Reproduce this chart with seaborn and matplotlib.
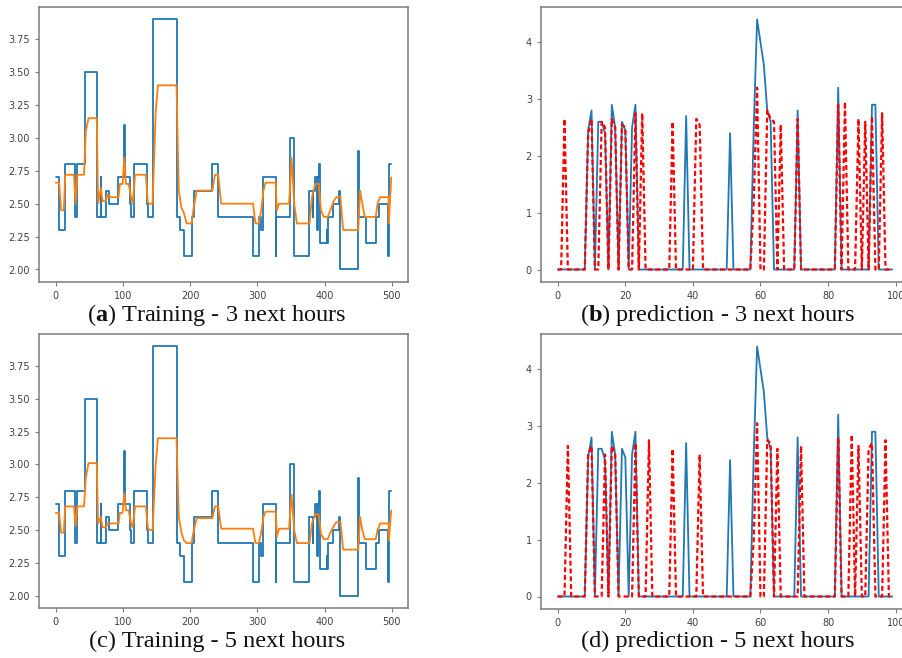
import numpy as np
import pandas as pd
import matplotlib
matplotlib.use("Agg")
import matplotlib.pyplot as plt
import seaborn as sns

# ---- training series (a)/(c): measured value, piecewise constant -----
train_start = [0, 5, 13, 29, 31, 44, 61, 67, 68, 75, 79, 93, 101, 103, 110, 112,
               117, 135, 137, 145, 181, 185, 190, 202, 206, 233, 242, 293, 302,
               306, 308, 327, 328, 348, 354, 377, 382, 383, 386, 389, 390, 392,
               393, 403, 404, 405, 412, 421, 423, 450, 451, 461, 476, 481, 494,
               495, 496, 499]
train_level = [2.7, 2.3, 2.8, 2.4, 2.8, 3.5, 2.4, 2.7, 2.4, 2.6, 2.5, 2.7, 3.1,
               2.7, 2.5, 2.4, 2.8, 2.5, 2.4, 3.9, 2.4, 2.3, 2.1, 2.4, 2.6, 2.8,
               2.4, 2.1, 2.4, 2.3, 2.7, 2.1, 2.4, 3.0, 2.1, 2.6, 2.4, 2.6, 2.7,
               2.3, 2.7, 2.8, 2.2, 2.3, 2.2, 2.4, 2.5, 2.6, 2.0, 2.9, 2.4, 2.2,
               2.4, 2.5, 2.1, 2.4, 2.8, 2.8]

# ---- fitted curves (orange) --------------------------------------------
fit_x = [0, 5, 8, 12, 14, 27, 29.5, 32, 42, 44.7, 48.7, 61, 63, 67, 69.5, 74.5,
         77, 79.5, 93.4, 95.4, 99.4, 102, 104.4, 108.4, 112, 114.4, 118, 134,
         136.7, 138, 144, 148.7, 152, 179.6, 183, 187, 190.6, 194.6, 202, 204.6,
         209.6, 233, 236.7, 241.7, 246, 293.4, 297, 302, 305.5, 309, 312, 327,
         329, 332, 347, 350.7, 354.7, 358.7, 377.6, 381, 386, 391, 394.6, 398.6,
         404.5, 408.5, 413.5, 417.5, 423.5, 427.5, 450, 452.6, 456, 459.6, 476,
         478.6, 482.6, 495, 495.5, 499]
fit_3h = [2.66, 2.66, 2.45, 2.45, 2.72, 2.72, 2.50, 2.72, 2.72, 3.05,
          3.15, 3.15, 2.50, 2.62, 2.52, 2.52, 2.57, 2.55, 2.55, 2.65,
          2.65, 2.85, 2.65, 2.65, 2.55, 2.50, 2.72, 2.72, 2.52, 2.50,
          2.50, 3.20, 3.40, 3.40, 2.60, 2.47, 2.43, 2.35, 2.35, 2.45,
          2.60, 2.60, 2.72, 2.72, 2.50, 2.50, 2.35, 2.35, 2.45, 2.60,
          2.66, 2.66, 2.45, 2.50, 2.50, 2.85, 2.50, 2.35, 2.35, 2.55,
          2.65, 2.65, 2.45, 2.40, 2.40, 2.45, 2.52, 2.55, 2.55, 2.30,
          2.30, 2.60, 2.50, 2.40, 2.40, 2.50, 2.55, 2.55, 2.35, 2.70]
fit_5h = [2.63, 2.63, 2.48, 2.48, 2.68, 2.68, 2.53, 2.68, 2.68, 2.90,
          3.01, 3.01, 2.55, 2.60, 2.52, 2.52, 2.55, 2.55, 2.55, 2.63,
          2.63, 2.78, 2.65, 2.65, 2.55, 2.52, 2.68, 2.68, 2.53, 2.50,
          2.50, 3.00, 3.20, 3.20, 2.60, 2.48, 2.42, 2.40, 2.40, 2.48,
          2.59, 2.59, 2.68, 2.68, 2.51, 2.51, 2.40, 2.40, 2.48, 2.60,
          2.64, 2.64, 2.45, 2.51, 2.51, 2.77, 2.50, 2.40, 2.40, 2.55,
          2.62, 2.62, 2.47, 2.43, 2.43, 2.48, 2.53, 2.56, 2.56, 2.35,
          2.35, 2.60, 2.50, 2.43, 2.43, 2.50, 2.55, 2.55, 2.42, 2.65]

# ---- prediction panels (b)/(d): non-zero samples, rest are 0 -----------
n_pred = 100
actual_idx = [9, 10, 12, 13, 14, 16, 17, 19, 20, 22, 23, 38, 51, 58, 59, 60, 61,
              62, 63, 71, 83, 93, 94]
actual_val = [2.45, 2.8, 2.6, 2.6, 2.4, 2.9, 2.5, 2.6, 2.45, 2.5, 2.9, 2.7, 2.4,
              2.5, 4.4, 4.0, 3.6, 2.8, 2.6, 2.8, 3.2, 2.9, 2.9]
pred3_idx = [2, 9, 10, 13, 14, 16, 17, 19, 20, 23, 25, 34, 41, 42, 58, 59, 62,
             63, 64, 66, 71, 83, 85, 89, 91, 93, 96]
pred3_val = [2.65, 2.4, 2.65, 2.6, 2.5, 2.65, 2.5, 2.55, 2.5, 2.75, 2.75, 2.6,
             2.65, 2.55, 1.2, 3.2, 2.8, 2.65, 2.6, 2.55, 2.65, 2.9, 2.95, 2.65,
             2.6, 2.7, 2.75]
pred5_idx = [3, 9, 10, 14, 16, 17, 23, 27, 34, 42, 58, 59, 62, 63, 65, 72, 83,
             87, 89, 92, 93, 97]
pred5_val = [2.65, 2.5, 2.65, 2.5, 2.65, 2.5, 2.7, 2.75, 2.6, 2.5, 1.0, 3.05,
             2.75, 2.7, 2.6, 2.65, 2.8, 2.85, 2.65, 2.6, 2.7, 2.75]

captions = [r"($\mathbf{a}$) Training - 3 next hours",
            r"($\mathbf{b}$) prediction - 3 next hours",
            "(c) Training - 5 next hours",
            "(d) prediction - 5 next hours"]

BLUE = "#1f77b4"
ORANGE = "#ff7f0e"

sns.set_style("white")
plt.rcParams["font.family"] = "DejaVu Sans"
plt.rcParams["mathtext.fontset"] = "custom"
plt.rcParams["mathtext.rm"] = "Liberation Serif"
plt.rcParams["mathtext.bf"] = "Liberation Serif:bold"


def sparse_series(idx, val):
    y = np.zeros(n_pred)
    y[idx] = val
    return pd.DataFrame({"x": np.arange(n_pred), "y": y})


def style_axes(ax):
    for s in ax.spines.values():
        s.set_color("#7a7a7a")
        s.set_linewidth(1.1)
    ax.tick_params(axis="both", which="both", labelsize=7, colors="#7a7a7a",
                   labelcolor="#404040", length=3, width=0.8, direction="out",
                   bottom=True, left=True)
    ax.set_xlabel("")
    ax.set_ylabel("")


def draw_training(ax, fit_y):
    steps = pd.DataFrame({"x": train_start, "y": train_level})
    sns.lineplot(data=steps, x="x", y="y", ax=ax, color=BLUE, lw=1.3,
                 drawstyle="steps-post", estimator=None, sort=False)
    fit = pd.DataFrame({"x": fit_x, "y": fit_y})
    sns.lineplot(data=fit, x="x", y="y", ax=ax, color=ORANGE, lw=1.3,
                 estimator=None, sort=False)
    ax.set_yticks([2.0, 2.25, 2.5, 2.75, 3.0, 3.25, 3.5, 3.75])
    ax.set_xticks([0, 100, 200, 300, 400, 500])
    ax.margins(x=0.05, y=0.05)
    style_axes(ax)


def draw_prediction(ax, p_idx, p_val):
    sns.lineplot(data=sparse_series(actual_idx, actual_val), x="x", y="y", ax=ax,
                 color=BLUE, lw=1.3, estimator=None)
    sns.lineplot(data=sparse_series(p_idx, p_val), x="x", y="y", ax=ax,
                 color="red", lw=1.6, linestyle=(0, (2.2, 1.3)), estimator=None)
    ax.set_xticks([0, 20, 40, 60, 80, 100])
    ax.set_yticks([0, 1, 2, 3, 4])
    ax.margins(x=0.05, y=0.05)
    style_axes(ax)


fig = plt.figure(figsize=(9.02, 6.58), dpi=100)
W, H = 902.0, 658.0
ax_a = fig.add_axes([39 / W, 1 - 282 / H, 369 / W, 275 / H])
ax_b = fig.add_axes([541 / W, 1 - 282 / H, 368 / W, 275 / H])
ax_c = fig.add_axes([39 / W, 1 - 608 / H, 369 / W, 274 / H])
ax_d = fig.add_axes([541 / W, 1 - 609 / H, 368 / W, 275 / H])

draw_training(ax_a, fit_3h)
draw_prediction(ax_b, pred3_idx, pred3_val)
draw_training(ax_c, fit_5h)
draw_prediction(ax_d, pred5_idx, pred5_val)

cap_pos = [(217, 315), (718, 315), (217, 641), (718, 641)]
for (cx, cy), txt in zip(cap_pos, captions):
    fig.text(cx / W, 1 - cy / H, txt, ha="center", va="center",
             fontsize=17.5, family="Liberation Serif", color="#111111")

fig.savefig("out.png", dpi=100)
